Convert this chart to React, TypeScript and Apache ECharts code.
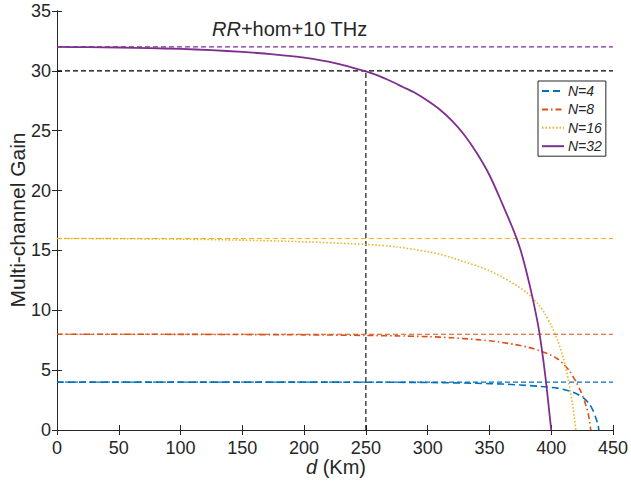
import React, { useEffect, useRef } from "react";
import * as echarts from "echarts";

const xTicks = [0, 50, 100, 150, 200, 250, 300, 350, 400, 450];
const yTicks = [0, 5, 10, 15, 20, 25, 30, 35];

const seriesNames = ["N=4", "N=8", "N=16", "N=32"];
const asymptotes = [4, 8, 16, 32];

const d4 = [0, 100, 200, 250, 300, 340, 360, 375, 390, 405, 415, 422, 427, 431, 434, 436, 438, 438.5];
const g4 = [4, 4, 4, 3.99, 3.97, 3.9, 3.84, 3.76, 3.65, 3.5, 3.25, 2.95, 2.6, 2.15, 1.6, 1.05, 0.4, 0];

const d8 = [0, 100, 200, 250, 275, 300, 320, 340, 350, 360, 370, 380, 390, 400, 405, 410, 415, 420, 424, 427, 430, 432];
const g8 = [8, 7.99, 7.95, 7.9, 7.86, 7.8, 7.7, 7.55, 7.45, 7.32, 7.15, 6.95, 6.65, 6.25, 5.95, 5.5, 4.9, 4.05, 3.2, 2.4, 1.35, 0];

const d16 = [0, 50, 100, 150, 200, 250, 275, 300, 310, 320, 330, 340, 350, 360, 370, 380, 390, 395, 400, 405, 410, 414, 417, 420];
const g16 = [16, 15.98, 15.94, 15.86, 15.72, 15.5, 15.3, 14.9, 14.68, 14.38, 14.05, 13.7, 13.3, 12.8, 12.2, 11.5, 10.45, 9.7, 8.75, 7.55, 5.95, 4.1, 2.3, 0];

const d32 = [0, 25, 50, 75, 100, 125, 150, 175, 200, 225, 250, 260, 270, 280, 290, 300, 310, 320, 330, 340, 350, 360, 370, 375, 380, 385, 390, 395, 400];
const g32 = [32, 31.98, 31.95, 31.9, 31.83, 31.73, 31.58, 31.38, 31.1, 30.65, 29.95, 29.6, 29.15, 28.65, 28.15, 27.5, 26.75, 25.8, 24.6, 23.1, 21.3, 19.0, 16.55, 15.1, 13.2, 11.0, 8.4, 4.7, 0];

const refLevel = 30;
const refD = 250;

const colors = ["#0072BD", "#D95319", "#EDB120", "#7E2F8E"];
const dashTypes: any[] = [[7, 4], [6, 3, 1.5, 3], [1.5, 2], "solid"];

const TEXT = "#262626";
const FONT = "Liberation Sans, Arial, Helvetica, sans-serif";

export default function App() {
  const ref = useRef<HTMLDivElement>(null);
  useEffect(() => {
    if (!ref.current) return;
    const chart = echarts.init(ref.current, undefined, { renderer: "svg" });
    const curves = [
      [d4, g4],
      [d8, g8],
      [d16, g16],
      [d32, g32],
    ];
    const series: any[] = [];
    asymptotes.forEach((a, i) => {
      series.push({
        type: "line",
        name: "asym" + i,
        data: [
          [xTicks[0], a],
          [xTicks[xTicks.length - 1], a],
        ],
        symbol: "none",
        silent: true,
        lineStyle: { color: colors[i], width: 1.1, type: [5, 3] },
        z: 2,
      });
    });
    series.push({
      type: "line",
      name: "ref-h",
      data: [
        [xTicks[0], refLevel],
        [xTicks[xTicks.length - 1], refLevel],
      ],
      symbol: "none",
      lineStyle: { color: "#000", width: 1.1, type: [5, 3] },
      z: 2,
    });
    series.push({
      type: "line",
      name: "ref-v",
      data: [
        [refD, 0],
        [refD, refLevel],
      ],
      symbol: "none",
      lineStyle: { color: "#000", width: 1.1, type: [5, 3] },
      z: 2,
    });
    curves.forEach(([ds, gs], i) => {
      series.push({
        type: "line",
        name: seriesNames[i],
        data: ds.map((d, k) => [d, gs[k]]),
        symbol: "none",
        smooth: 0.25,
        lineStyle: { color: colors[i], width: i === 3 ? 1.8 : 1.6, type: dashTypes[i] },
        itemStyle: { color: colors[i] },
        z: 3,
      });
    });

    const axisCommon = {
      type: "value",
      axisLine: { show: true, lineStyle: { color: TEXT, width: 1 } },
      axisTick: { show: true, inside: true, length: 5, lineStyle: { color: TEXT } },
      splitLine: { show: false },
    };

    chart.setOption({
      animation: false,
      grid: { left: 57, right: 15, top: 11, bottom: 59 },
      xAxis: [
        {
          ...axisCommon,
          min: 0,
          max: 450,
          interval: 50,
          axisLabel: { color: TEXT, fontSize: 18, fontFamily: FONT, margin: 9 },
        },
        {
          ...axisCommon,
          position: "top",
          min: 0,
          max: 450,
          interval: 50,
          axisLabel: { show: false },
        },
      ],
      yAxis: [
        {
          ...axisCommon,
          min: 0,
          max: 35,
          interval: 5,
          axisLabel: { color: TEXT, fontSize: 18, fontFamily: FONT, margin: 6 },
        },
        {
          ...axisCommon,
          position: "right",
          min: 0,
          max: 35,
          interval: 5,
          axisLabel: { show: false },
        },
      ],
      legend: {
        data: seriesNames,
        orient: "vertical",
        left: 538,
        top: 81,
        padding: [3, 4, 3, 3],
        itemWidth: 22,
        itemHeight: 14,
        itemGap: 4.4,
        borderColor: TEXT,
        borderWidth: 1,
        backgroundColor: "#fff",
        itemStyle: { opacity: 0 },
        formatter: (n: string) => "{i|N}" + n.slice(1),
        textStyle: {
          color: TEXT,
          fontSize: 14,
          fontFamily: FONT,
          fontStyle: "italic",
          padding: [0, 0, 0, -1],
          rich: { i: { fontStyle: "italic", fontSize: 14, fontFamily: FONT, color: TEXT } },
        },
      },
      graphic: [
        {
          type: "text",
          left: 212,
          top: 19,
          style: {
            text: "{i|RR}+hom+10 THz",
            fill: TEXT,
            font: `20px ${FONT}`,
            rich: { i: { fontStyle: "italic", fontSize: 20, fontFamily: FONT, fill: TEXT } },
          },
        },
        {
          type: "text",
          x: 336,
          y: 467,
          style: {
            text: "{i|d} (Km)",
            fill: TEXT,
            font: `20px ${FONT}`,
            align: "center",
            verticalAlign: "middle",
            rich: { i: { fontStyle: "italic", fontSize: 20, fontFamily: FONT, fill: TEXT } },
          },
        },
        {
          type: "text",
          x: 17,
          y: 220,
          rotation: Math.PI / 2,
          style: {
            text: "Multi-channel Gain",
            fill: TEXT,
            font: `21px ${FONT}`,
            align: "center",
            verticalAlign: "middle",
          },
        },
      ],
      series,
    });
    return () => chart.dispose();
  }, []);
  return (
    <div
      ref={ref}
      style={{ position: "fixed", left: 0, top: 0, width: 631, height: 489, background: "#fff" }}
    />
  );
}
